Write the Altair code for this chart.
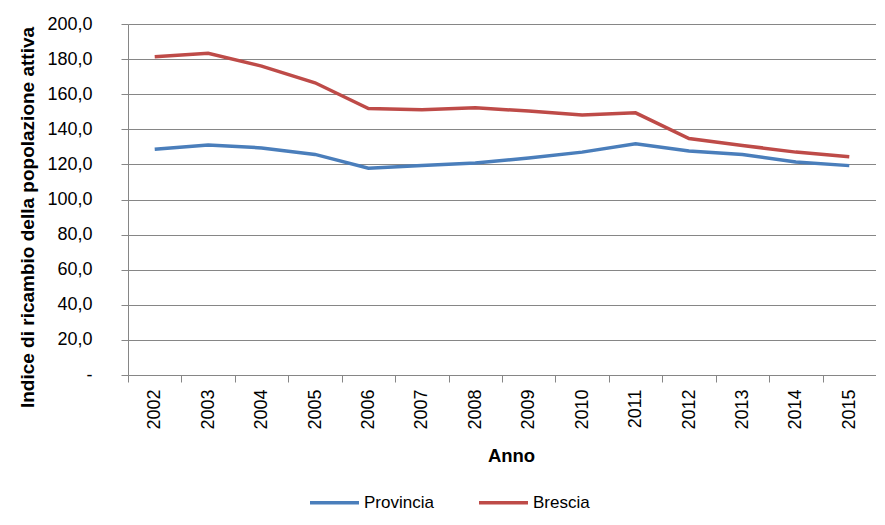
import altair as alt
import pandas as pd

years = ["2002", "2003", "2004", "2005", "2006", "2007", "2008",
         "2009", "2010", "2011", "2012", "2013", "2014", "2015"]
provincia = [128.6, 131.1, 129.4, 125.7, 117.8, 119.4, 120.8,
             123.6, 127.0, 131.7, 127.6, 125.6, 121.4, 119.3]
brescia = [181.4, 183.3, 176.0, 166.5, 151.8, 151.1, 152.3,
           150.4, 148.2, 149.4, 134.7, 130.8, 127.0, 124.4]
series_names = ["Provincia", "Brescia"]
series_colors = ["#4A7EBB", "#BE4B48"]
y_ticks = [0, 20, 40, 60, 80, 100, 120, 140, 160, 180, 200]

rows = []
for name, vals in zip(series_names, [provincia, brescia]):
    for yr, v in zip(years, vals):
        rows.append({"Anno": yr, "Valore": v, "Serie": name})
df = pd.DataFrame(rows)

FONT = "Liberation Sans"

chart = alt.Chart(df).mark_line(strokeWidth=3.5).encode(
    x=alt.X(
        "Anno:O",
        sort=years,
        bandPosition=0.5,
        scale=alt.Scale(type="band", paddingInner=0, paddingOuter=0),
        axis=alt.Axis(
            title="Anno",
            labelAngle=270,
            labelAlign="right",
            labelBaseline="middle",
            tickBand="extent",
            tickSize=7,
            labelPadding=7,
            grid=False,
            titleX=383,
            titleY=86,
            titleBaseline="alphabetic",
            titleAlign="center",
        ),
    ),
    y=alt.Y(
        "Valore:Q",
        scale=alt.Scale(domain=[0, 200], nice=False),
        axis=alt.Axis(
            title="Indice di ricambio della popolazione  attiva",
            values=y_ticks,
            labelExpr="datum.value == 0 ? '-\u00a0' : replace(format(datum.value, '.1f'), '.', ',')",
            tickSize=7,
            labelPadding=29,
            grid=True,
            titleX=-95,
            titleY=193,
            titleAngle=270,
            titleAlign="center",
            titleBaseline="alphabetic",
            titleFontSize=19,
        ),
    ),
    color=alt.Color(
        "Serie:N",
        sort=series_names,
        scale=alt.Scale(domain=series_names, range=series_colors),
        legend=alt.Legend(
            title=None,
            orient="none",
            direction="horizontal",
            legendX=180,
            legendY=452,
            symbolType="stroke",
            symbolSize=2400,
            symbolStrokeWidth=3.5,
            labelOffset=3,
            columnPadding=38,
            padding=0,
            labelFont=FONT,
            labelFontSize=17,
            labelColor="#000000",
        ),
    ),
).properties(
    width=748,
    height=351,
    autosize=alt.AutoSizeParams(type="none"),
    padding={"left": 120, "top": 16, "right": 0, "bottom": 138},
).configure_view(
    stroke=None
).configure_axis(
    labelFont=FONT,
    labelFontSize=18,
    labelColor="#000000",
    titleFont=FONT,
    titleFontSize=18.5,
    titleFontWeight="bold",
    titleColor="#000000",
    domainColor="#868686",
    tickColor="#868686",
    gridColor="#868686",
    domainWidth=1,
    tickWidth=1,
    gridWidth=1,
)

chart.save("out.html", embed_options={"renderer": "svg", "actions": False})
